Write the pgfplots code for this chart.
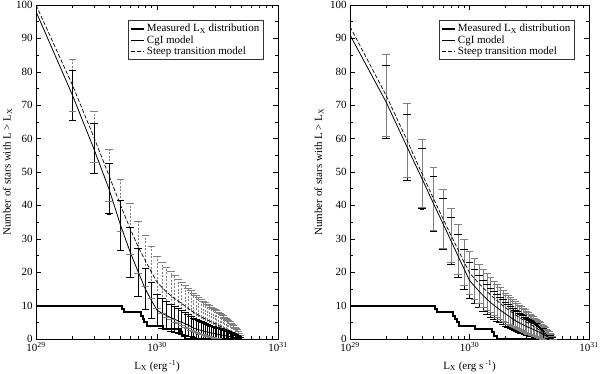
\documentclass[border=0pt]{standalone}
\usepackage{pgfplots}
\pgfplotsset{compat=1.18}
\usepackage{pgfplotstable}
\usepackage{fontspec}
\setmainfont{Liberation Serif}

\pgfplotstableread{
x y
1e29 10
5.1e29 9
5.3e29 8
7.3e29 7
7.6e29 6
7.8e29 5
8.2e29 4
1.12e30 3
1.55e30 2
1.6e30 1
1.7e30 0
5e30 0
}\meas

\pgfplotstableread{
x c ce s se
1e29 98 0 100 0
2e29 73 7.5 76 7.7
3e29 57 7.5 60.5 7.7
4e29 45 7.5 49 7.7
5e29 34 7.5 40 7.7
6e29 26 7.5 33 7.7
7e29 20 7.2 27.5 7.7
8e29 15 6.2 23.5 7.7
9e29 11.5 5.4 20 7.7
1e30 8.6 4.7 17 7.7
1.1e30 7.7 4.4 15.4 7.7
1.2e30 7.0 4.2 14.1 7.5
1.3e30 6.4 4.0 13.0 7.2
1.4e30 5.9 3.9 12.1 7.0
1.5e30 5.4 3.7 11.3 6.7
1.6e30 5.0 3.6 10.6 6.5
1.7e30 4.6 3.4 9.9 6.3
1.8e30 4.2 3.3 9.2 6.1
1.9e30 3.8 3.1 8.6 5.9
2e30 3.3 2.9 8.0 5.7
2.1e30 3.0 2.8 7.5 5.5
2.2e30 2.8 2.7 7.1 5.3
2.3e30 2.6 2.6 6.7 5.2
2.4e30 2.4 2.5 6.3 5.0
2.5e30 2.25 2.4 6.0 4.9
2.6e30 2.1 2.3 5.7 4.8
2.7e30 1.95 2.2 5.4 4.6
2.8e30 1.8 2.1 5.1 4.5
2.9e30 1.7 2.1 4.85 4.4
3e30 1.6 2.0 4.6 4.3
3.1e30 1.5 2.0 4.35 4.2
3.2e30 1.4 1.9 4.1 4.0
3.3e30 1.3 1.8 3.85 3.9
3.4e30 1.2 1.75 3.6 3.8
3.5e30 1.12 1.7 3.35 3.7
3.6e30 1.04 1.6 3.1 3.5
3.7e30 0.96 1.6 2.9 3.4
3.8e30 0.88 1.5 2.65 3.3
3.9e30 0.8 1.4 2.45 3.1
4e30 0.72 1.4 2.2 3.0
4.1e30 0.64 1.3 2.0 2.8
4.2e30 0.56 1.2 1.8 2.7
4.3e30 0.48 1.1 1.55 2.5
4.4e30 0.4 1.0 1.35 2.3
4.5e30 0.32 0.9 1.1 2.1
4.6e30 0.24 0.8 0.9 1.9
4.7e30 0.16 0.6 0.65 1.6
4.8e30 0.1 0.5 0.43 1.3
4.9e30 0.05 0.35 0.2 0.9
5e30 0 0 0 0
}\lefttab

\pgfplotstableread{
x c ce s se
1e29 91 0 93.5 0
2e29 71 11.0 73 12.4
3e29 57.5 9.9 59.5 11.2
4e29 48 9.0 49.5 10.2
5e29 40.5 8.3 42 9.4
6e29 34.5 7.6 36 8.7
7e29 29.4 7.0 31 8.1
8e29 24.9 6.5 26.8 7.5
9e29 21 6.0 23 7.0
1e30 17.5 5.4 19.8 6.5
1.1e30 15.8 5.2 18.1 6.2
1.2e30 14.3 4.9 16.6 5.9
1.3e30 13.0 4.7 15.3 5.7
1.4e30 11.9 4.5 14.2 5.5
1.5e30 10.9 4.3 13.2 5.3
1.6e30 10.1 4.1 12.3 5.1
1.7e30 9.4 4.0 11.5 4.9
1.8e30 8.7 3.8 10.7 4.7
1.9e30 8.1 3.7 10.0 4.6
2e30 7.5 3.6 9.4 4.4
2.1e30 7.0 3.4 8.8 4.3
2.2e30 6.5 3.3 8.3 4.2
2.3e30 6.0 3.2 7.8 4.0
2.4e30 5.6 3.1 7.3 3.9
2.5e30 5.2 3.0 6.9 3.8
2.6e30 4.9 2.9 6.5 3.7
2.7e30 4.6 2.8 6.1 3.6
2.8e30 4.3 2.7 5.75 3.5
2.9e30 4.0 2.6 5.4 3.4
3e30 3.75 2.5 5.05 3.3
3.1e30 3.5 2.4 4.75 3.2
3.2e30 3.3 2.4 4.45 3.1
3.3e30 3.1 2.3 4.15 3.0
3.4e30 2.9 2.2 3.9 2.9
3.5e30 2.7 2.1 3.6 2.75
3.6e30 2.5 2.1 3.35 2.65
3.7e30 2.3 2.0 3.1 2.55
3.8e30 2.1 1.9 2.85 2.45
3.9e30 1.9 1.8 2.6 2.35
4e30 1.7 1.7 2.35 2.2
4.1e30 1.5 1.6 2.1 2.1
4.2e30 1.3 1.5 1.85 2.0
4.3e30 1.1 1.4 1.6 1.8
4.4e30 0.92 1.25 1.35 1.7
4.5e30 0.75 1.1 1.1 1.5
4.6e30 0.58 1.0 0.85 1.35
4.7e30 0.42 0.85 0.6 1.1
4.8e30 0.27 0.7 0.38 0.9
4.9e30 0.13 0.45 0.18 0.6
5e30 0 0 0 0
}\righttab

\pgfplotsset{legend image code/.code={\draw[#1] (0pt,0pt) -- (13pt,0pt);}}

\begin{document}
\begin{tikzpicture}
\useasboundingbox (-36pt,-35pt) rectangle (564pt,339pt);
% ---------- left panel ----------
\begin{axis}[
    scale only axis, width=242pt, height=334pt,
    at={(0pt,0pt)}, anchor=south west,
    xmode=log, xmin=1e29, xmax=1e31, ymin=0, ymax=100,
    xtick={1e29,1e30,1e31},
    xticklabels={10\textsuperscript{29},10\textsuperscript{30},10\textsuperscript{31}},
    minor xtick={2e29,3e29,4e29,5e29,6e29,7e29,8e29,9e29,2e30,3e30,4e30,5e30,6e30,7e30,8e30,9e30},
    ytick={0,10,20,30,40,50,60,70,80,90,100}, minor y tick num=1,
    /pgf/number format/assume math mode=true,
    tick label style={font=\fontsize{11}{13}\selectfont},
    xticklabel style={yshift=0pt},
    label style={font=\fontsize{11}{13}\selectfont},
    major tick length=5pt, minor tick length=3pt,
    tick style={black, line width=0.5pt},
    axis line style={line width=0.6pt},
    ylabel={Number of stars with L > L\textsubscript{X}},
    xlabel={L\textsubscript{X} (erg\textsuperscript{ -1})},
    xlabel style={at={(axis description cs:0.5,0)}, anchor=center, yshift=-27pt},
    ylabel style={at={(axis description cs:-0.118,0.5)}, anchor=center},
    legend style={at={(1,1)}, anchor=north east, xshift=-15pt, yshift=-15.5pt,
      draw=black!80, line width=0.5pt, font=\fontsize{11}{13}\selectfont,
      row sep=-2pt, inner sep=1.5pt},
    legend cell align=left]
% steep transition model: grey dashed error bars
\addplot[black!50, only marks, mark=text, text mark={}, forget plot,
  skip coords between index={0}{1},
  error bars/.cd, y dir=both, y explicit,
  error bar style={black!50, line width=0.5pt, dash pattern=on 2pt off 1.5pt}]
  table[x=x, y=s, y error=se] {\lefttab};
\addplot[black!50, only marks, mark=-, mark size=3.8pt, mark options={solid, line width=0.5pt}, forget plot,
  skip coords between index={0}{1}]
  table[x=x, y expr=\thisrow{s}+\thisrow{se}] {\lefttab};
\addplot[black!50, only marks, mark=-, mark size=3.8pt, mark options={solid, line width=0.5pt}, forget plot,
  skip coords between index={0}{1}]
  table[x=x, y expr=\thisrow{s}-\thisrow{se}] {\lefttab};
% CgI model: black error bars
\addplot[black, only marks, mark=text, text mark={}, forget plot,
  skip coords between index={0}{1},
  error bars/.cd, y dir=both, y explicit,
  error bar style={black, line width=0.5pt}]
  table[x=x, y=c, y error=ce] {\lefttab};
\addplot[black, only marks, mark=-, mark size=3.8pt, mark options={line width=0.5pt}, forget plot,
  skip coords between index={0}{1}]
  table[x=x, y expr=\thisrow{c}+\thisrow{ce}] {\lefttab};
\addplot[black, only marks, mark=-, mark size=3.8pt, mark options={line width=0.5pt}, forget plot,
  skip coords between index={0}{1}]
  table[x=x, y expr=\thisrow{c}-\thisrow{ce}] {\lefttab};
\addplot[black, line width=2pt, const plot] table[x=x, y=y] {\meas};
\addlegendentry{Measured L\textsubscript{X} distribution}
\addplot[black, line width=0.8pt] table[x=x, y=c] {\lefttab};
\addlegendentry{CgI model}
\addplot[black, line width=0.7pt, dash pattern=on 4pt off 2pt] table[x=x, y=s] {\lefttab};
\addlegendentry{Steep transition model}
\end{axis}
% ---------- right panel ----------
\begin{axis}[
    scale only axis, width=239pt, height=334pt,
    at={(314pt,0pt)}, anchor=south west,
    xmode=log, xmin=1e29, xmax=1e31, ymin=0, ymax=100,
    xtick={1e29,1e30,1e31},
    xticklabels={10\textsuperscript{29},10\textsuperscript{30},10\textsuperscript{31}},
    minor xtick={2e29,3e29,4e29,5e29,6e29,7e29,8e29,9e29,2e30,3e30,4e30,5e30,6e30,7e30,8e30,9e30},
    ytick={0,10,20,30,40,50,60,70,80,90,100}, minor y tick num=1,
    /pgf/number format/assume math mode=true,
    tick label style={font=\fontsize{11}{13}\selectfont},
    xticklabel style={yshift=0pt},
    label style={font=\fontsize{11}{13}\selectfont},
    major tick length=5pt, minor tick length=3pt,
    tick style={black, line width=0.5pt},
    axis line style={line width=0.6pt},
    ylabel={Number of stars with L > L\textsubscript{X}},
    xlabel={L\textsubscript{X} (erg s\textsuperscript{ -1})},
    xlabel style={at={(axis description cs:0.5,0)}, anchor=center, yshift=-27pt},
    ylabel style={at={(axis description cs:-0.13,0.5)}, anchor=center},
    legend style={at={(1,1)}, anchor=north east, xshift=-15pt, yshift=-15.5pt,
      draw=black!80, line width=0.5pt, font=\fontsize{11}{13}\selectfont,
      row sep=-2pt, inner sep=1.5pt},
    legend cell align=left]
% CgI model: black error bars
\addplot[black, only marks, mark=text, text mark={}, forget plot,
  skip coords between index={0}{1},
  error bars/.cd, y dir=both, y explicit,
  error bar style={black, line width=0.5pt}]
  table[x=x, y=c, y error=ce] {\righttab};
\addplot[black, only marks, mark=-, mark size=3.8pt, mark options={line width=0.5pt}, forget plot,
  skip coords between index={0}{1}]
  table[x=x, y expr=\thisrow{c}+\thisrow{ce}] {\righttab};
\addplot[black, only marks, mark=-, mark size=3.8pt, mark options={line width=0.5pt}, forget plot,
  skip coords between index={0}{1}]
  table[x=x, y expr=\thisrow{c}-\thisrow{ce}] {\righttab};
% steep transition model: grey error bars
\addplot[black!50, only marks, mark=text, text mark={}, forget plot,
  skip coords between index={0}{1},
  error bars/.cd, y dir=both, y explicit,
  error bar style={black!50, line width=0.6pt}]
  table[x=x, y=s, y error=se] {\righttab};
\addplot[black!50, only marks, mark=-, mark size=3.8pt, mark options={line width=0.5pt}, forget plot,
  skip coords between index={0}{1}]
  table[x=x, y expr=\thisrow{s}+\thisrow{se}] {\righttab};
\addplot[black!50, only marks, mark=-, mark size=3.8pt, mark options={line width=0.5pt}, forget plot,
  skip coords between index={0}{1}]
  table[x=x, y expr=\thisrow{s}-\thisrow{se}] {\righttab};
\addplot[black, line width=2pt, const plot] table[x=x, y=y] {\meas};
\addlegendentry{Measured L\textsubscript{X} distribution}
\addplot[black, line width=0.8pt] table[x=x, y=c] {\righttab};
\addlegendentry{CgI model}
\addplot[black, line width=0.7pt, dash pattern=on 4pt off 2pt] table[x=x, y=s] {\righttab};
\addlegendentry{Steep transition model}
\end{axis}
\end{tikzpicture}
\end{document}
